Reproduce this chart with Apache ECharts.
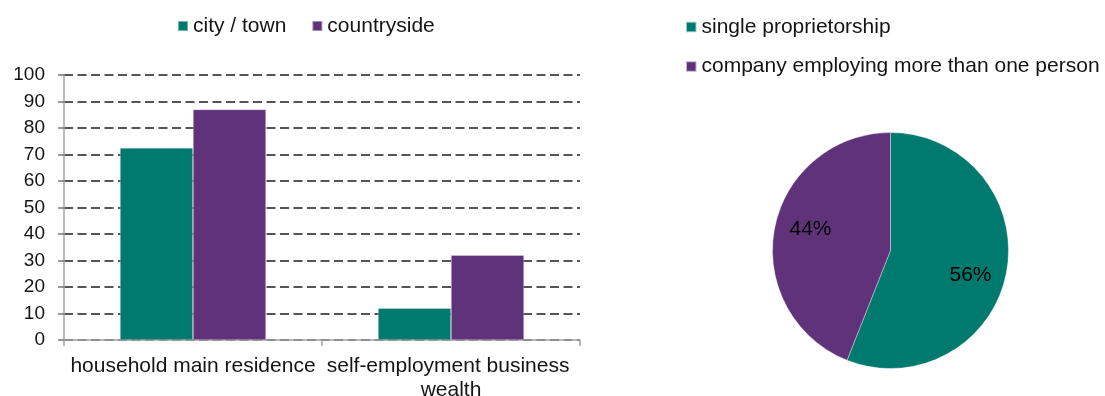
<!DOCTYPE html>
<html>
<head>
<meta charset="utf-8">
<script src="https://cdn.jsdelivr.net/npm/echarts@6/dist/echarts.min.js"></script>
<style>
  html, body { margin: 0; padding: 0; background: #fff; }
  #chart { width: 1105px; height: 396px; }
</style>
</head>
<body>
<div id="chart"></div>
<script>
// Share of households holding each asset type, by place of residence (%)
const categories = ['household main residence', 'self-employment business wealth'];
const cityTown = [72.5, 12];
const countryside = [87, 32];
const yTicks = { min: 0, max: 100, interval: 10 };

// Self-employment business wealth by legal form (%)
const businessForms = ['single proprietorship', 'company employing more than one person'];
const businessShares = [56, 44];

const TEAL = '#007a6e';
const PURPLE = '#5f327a';
const FONT = '"Liberation Sans", Arial, sans-serif';
const TEXT = '#141414';
const AXIS = '#a3a3a3';

const chart = echarts.init(document.getElementById('chart'), null, { renderer: 'canvas' });

// slight nudges so the percentage text sits where the slice reads best
const pieLabelNudge = (i) => (i === 0 ? [-4, 9] : [4, -5]);

const pieData = businessForms.map((name, i) => ({ name, value: businessShares[i] }));
const pieLabelData = businessForms.map((name, i) => ({
  name,
  value: businessShares[i],
  label: { offset: pieLabelNudge(i) }
}));

chart.setOption({
  animation: false,
  textStyle: { fontFamily: FONT },
  color: [TEAL, PURPLE],
  legend: [
    {
      data: ['city / town', 'countryside'],
      left: 177,
      top: 15,
      padding: 0,
      itemGap: 25,
      itemWidth: 10,
      itemHeight: 10,
      icon: 'rect',
      textStyle: { fontSize: 21, color: TEXT, lineHeight: 22, fontFamily: FONT }
    },
    {
      data: businessForms,
      orient: 'vertical',
      left: 685,
      top: 16,
      padding: 0,
      itemGap: 17.5,
      itemWidth: 10.5,
      itemHeight: 10.5,
      icon: 'rect',
      textStyle: { fontSize: 21, color: TEXT, lineHeight: 22, fontFamily: FONT }
    }
  ],
  grid: {
    left: 64,
    width: 516,
    top: 75,
    height: 265,
    containLabel: false,
    outerBoundsMode: 'none'
  },
  xAxis: {
    type: 'category',
    data: categories,
    axisLine: { lineStyle: { color: AXIS, width: 1.5 } },
    axisTick: { show: true, length: 6, lineStyle: { color: AXIS, width: 1.5 } },
    axisLabel: {
      interval: 0,
      fontSize: 21,
      color: TEXT,
      width: 252,
      overflow: 'break',
      lineHeight: 24,
      margin: 14,
      fontFamily: FONT
    }
  },
  yAxis: {
    type: 'value',
    min: yTicks.min,
    max: yTicks.max,
    interval: yTicks.interval,
    axisLine: { show: true, lineStyle: { color: AXIS, width: 1.5 } },
    axisTick: { show: true, length: 6, lineStyle: { color: '#777', width: 1.5 } },
    axisLabel: { fontSize: 19, color: TEXT, margin: 19, fontFamily: FONT },
    splitLine: {
      show: true,
      lineStyle: { color: '#555', width: 1.8, type: [9, 4.5] }
    }
  },
  series: [
    {
      name: 'city / town',
      type: 'bar',
      data: cityTown,
      barWidth: 73,
      barGap: '0%',
      itemStyle: { color: TEAL, borderColor: 'rgba(255,255,255,0.45)', borderWidth: 0.6 }
    },
    {
      name: 'countryside',
      type: 'bar',
      data: countryside,
      barWidth: 73,
      barGap: '0%',
      itemStyle: { color: PURPLE, borderColor: 'rgba(255,255,255,0.45)', borderWidth: 0.6 }
    },
    {
      name: 'legal form',
      type: 'pie',
      center: [890.5, 250.5],
      radius: [0, 118],
      startAngle: 90,
      clockwise: true,
      data: pieData,
      label: { show: false },
      labelLine: { show: false },
      emphasis: { disabled: true },
      itemStyle: { borderColor: 'rgba(255,255,255,0.6)', borderWidth: 0.6 }
    },
    {
      // label ring: places the percentage text partway out from the centre
      name: 'legal form labels',
      type: 'pie',
      center: [890.5, 250.5],
      radius: [47, 118],
      startAngle: 90,
      clockwise: true,
      silent: true,
      data: pieLabelData,
      itemStyle: { color: 'rgba(0,0,0,0)', borderWidth: 0 },
      label: {
        show: true,
        position: 'inside',
        formatter: '{d}%',
        fontSize: 21,
        color: '#000',
        fontFamily: FONT
      },
      labelLine: { show: false },
      emphasis: { disabled: true }
    }
  ]
});
</script>
</body>
</html>
